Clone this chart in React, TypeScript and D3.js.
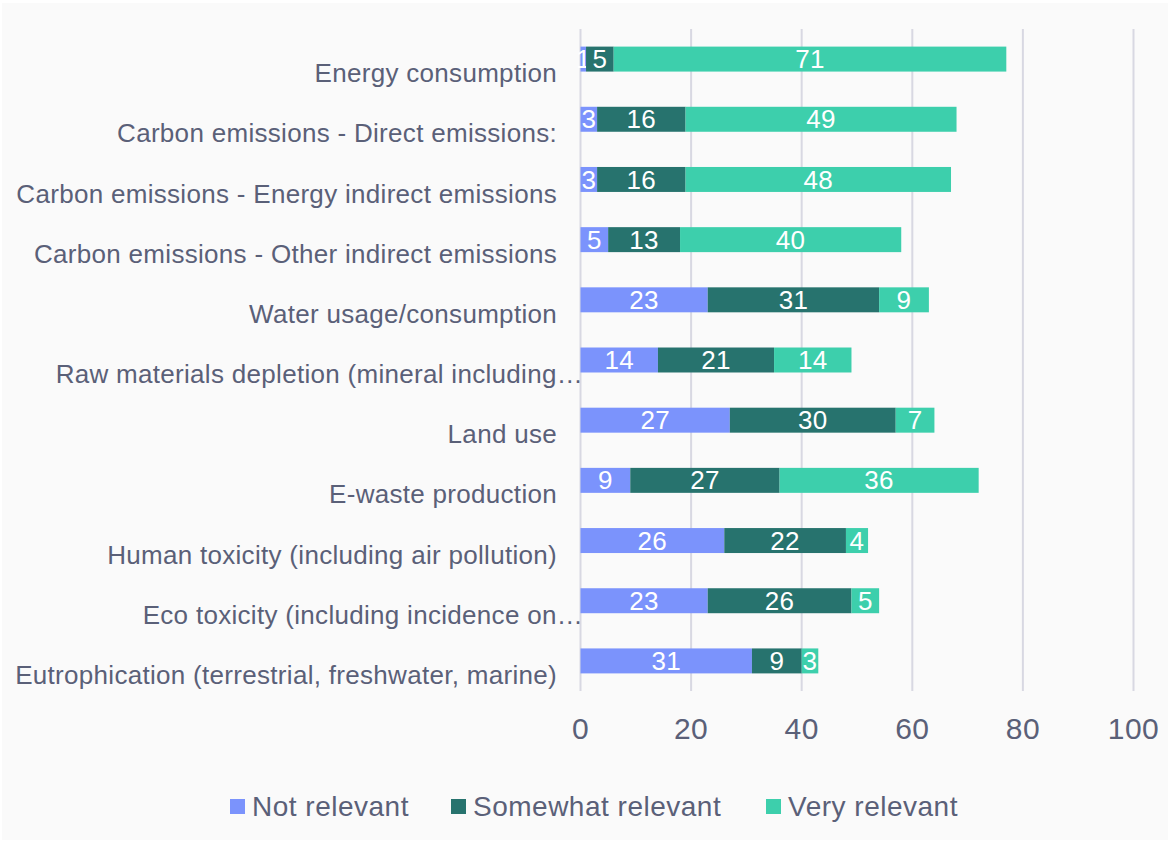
import React from "react";
import * as d3 from "d3";

const categories = [
  "Energy consumption",
  "Carbon emissions - Direct emissions:",
  "Carbon emissions - Energy indirect emissions",
  "Carbon emissions - Other indirect emissions",
  "Water usage/consumption",
  "Raw materials depletion (mineral including…",
  "Land use",
  "E-waste production",
  "Human toxicity (including air pollution)",
  "Eco toxicity (including incidence on…",
  "Eutrophication (terrestrial, freshwater, marine)",
];
const notRelevant = [1, 3, 3, 5, 23, 14, 27, 9, 26, 23, 31];
const somewhatRelevant = [5, 16, 16, 13, 31, 21, 30, 27, 22, 26, 9];
const veryRelevant = [71, 49, 48, 40, 9, 14, 7, 36, 4, 5, 3];
const seriesNames = ["Not relevant", "Somewhat relevant", "Very relevant"];
const seriesColors = ["#7b93fc", "#27736e", "#3dcfac"];
const xTicks = [0, 20, 40, 60, 80, 100];

const W = 1170;
const H = 842;
const textColor = "#5a6078";
const font = "'Liberation Sans', Arial, sans-serif";

export default function App() {
  const x = d3.scaleLinear().domain([0, 100]).range([580.5, 1133.5]);
  const y = d3.scaleBand<string>().domain(categories).range([29, 691]).paddingInner(0.585).paddingOuter(0.2925);
  const rows = categories.map((c, i) => ({ c, vals: [notRelevant[i], somewhatRelevant[i], veryRelevant[i]] }));
  const stack = d3.stack<any>().keys(["0", "1", "2"]).value((d: any, k: string) => d.vals[+k]);
  const stacked = stack(rows);
  const legendX = [230, 451, 766];
  return (
    <svg width={W} height={H} style={{ position: "absolute", left: 0, top: 0 }}>
      <rect x={0} y={0} width={W} height={H} fill="#ffffff" />
      <rect x={2} y={3} width={1166} height={837} fill="#fafafa" />
      {xTicks.map((t) => (
        <line key={t} x1={x(t)} x2={x(t)} y1={29} y2={691} stroke="#d8d8e2" strokeWidth={2} />
      ))}
      {stacked.map((layer, si) =>
        layer.map((d, i) => {
          const x0 = x(d[0]);
          const x1 = x(d[1]);
          const yy = y(categories[i])!;
          const bh = y.bandwidth();
          return (
            <g key={si + "-" + i}>
              <rect x={x0} y={yy} width={x1 - x0} height={bh} fill={seriesColors[si]} />
              <text
                x={(x0 + x1) / 2}
                y={yy + bh / 2}
                dy="0.35em"
                textAnchor="middle"
                fill="#ffffff"
                fontFamily={font}
                fontSize={26}
                letterSpacing={0.3}
              >
                {rows[i].vals[si]}
              </text>
            </g>
          );
        })
      )}
      {categories.map((c) => (
        <text
          key={c}
          x={c.endsWith("…") ? 583 : 557}
          y={y(c)! + y.bandwidth() / 2 + 14}
          dy="0.35em"
          textAnchor="end"
          fill={textColor}
          fontFamily={font}
          fontSize={26}
          letterSpacing={0.3}
        >
          {c}
        </text>
      ))}
      {xTicks.map((t) => (
        <text key={t} x={x(t)} y={728} dy="0.35em" textAnchor="middle" fill={textColor} fontFamily={font} fontSize={30} letterSpacing={0.4}>
          {t}
        </text>
      ))}
      {seriesNames.map((s, i) => (
        <g key={s}>
          <rect x={legendX[i]} y={799} width={15} height={15} fill={seriesColors[i]} />
          <text x={legendX[i] + 22} y={806} dy="0.35em" fill={textColor} fontFamily={font} fontSize={28} letterSpacing={0.5}>
            {s}
          </text>
        </g>
      ))}
    </svg>
  );
}
